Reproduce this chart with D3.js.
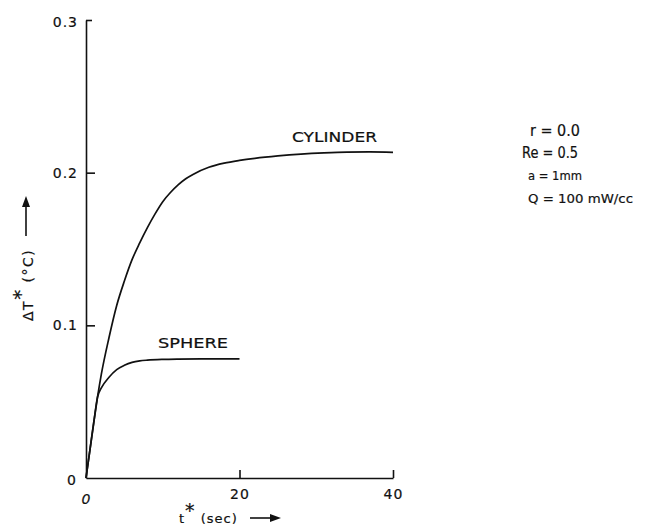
<!DOCTYPE html>
<html><head><meta charset="utf-8">
<script src="https://cdn.jsdelivr.net/npm/d3@7"></script>
<style>
html,body{margin:0;padding:0;background:#fff;}
text{font-family:"DejaVu Sans",sans-serif;fill:#111;stroke:#111;stroke-width:0.2px;}
</style></head>
<body><svg id="c" width="645" height="525"></svg>
<script>
// ---- data ----
const cylinderT = [0,0.5,1,1.5,2,3,4,5,6,7,8,9,10,11,12,13,14,16,18,20,22,25,28,31,34,37,40];
const cylinderV = [0,0.018,0.036,0.053,0.068,0.092,0.113,0.129,0.143,0.154,0.164,0.173,0.181,0.187,0.192,0.196,0.199,0.2035,0.2062,0.208,0.2094,0.211,0.2122,0.213,0.2135,0.2136,0.2133];
const sphereT = [0,0.5,1,1.5,2,3,4,5,6,7,8,10,12,15,20];
const sphereV = [0,0.018,0.036,0.053,0.059,0.066,0.071,0.0738,0.0757,0.0767,0.0772,0.0777,0.0779,0.078,0.078];
const xTicks = [0,20,40];
const xTickLabels = ["0","20","40"];
const yTicks = [0,0.1,0.2,0.3];
const yTickLabels = ["0","0.1","0.2","0.3"];
const params = ["r = 0.0","Re = 0.5","a = 1mm","Q = 100 mW/cc"];

const svg = d3.select("#c");
const x = d3.scaleLinear().domain([0,40]).range([86,393]);
const y = d3.scaleLinear().domain([0,0.3]).range([478,20]);

// x axis
const xg = svg.append("g").attr("transform",`translate(0,${y(0)})`)
  .call(d3.axisBottom(x).tickValues(xTicks).tickSizeInner(-8).tickSizeOuter(0).tickPadding(11)
    .tickFormat((d,i)=>xTickLabels[i]));
// y axis
const yg = svg.append("g").attr("transform",`translate(${x(0)},0)`)
  .call(d3.axisLeft(y).tickValues(yTicks).tickSizeInner(-9).tickSizeOuter(0).tickPadding(8)
    .tickFormat((d,i)=>yTickLabels[i]));
[xg,yg].forEach(g=>{
  g.selectAll("path,line").attr("stroke","#111").attr("stroke-width",1.6);
  g.selectAll("text").style("font-family","'DejaVu Sans',sans-serif").style("font-size","14px")
    .attr("fill","#111").style("letter-spacing","1px");
});
xg.selectAll(".tick").filter(d=>d===0).select("line").remove();
xg.selectAll(".tick").filter(d=>d===0).select("text").style("font-style","italic").attr("dy","1.05em");
yg.selectAll(".tick").filter(d=>d===0).select("line").remove();
yg.selectAll(".tick").filter(d=>d===0).select("text").attr("dx","-1px").attr("dy","0.45em");
yg.selectAll(".tick").filter(d=>d===0.3).select("line").attr("x2",6);
yg.selectAll(".tick").filter(d=>d===0.3).select("text").attr("dy","0.45em");

// curves
const line = d3.line().x(d=>x(d[0])).y(d=>y(d[1])).curve(d3.curveMonotoneX);
svg.append("path").datum(cylinderT.map((t,i)=>[t,cylinderV[i]]))
  .attr("d",line).attr("fill","none").attr("stroke","#111").attr("stroke-width",1.7);
svg.append("path").datum(sphereT.map((t,i)=>[t,sphereV[i]]))
  .attr("d",line).attr("fill","none").attr("stroke","#111").attr("stroke-width",1.7);

// curve labels
svg.append("text").attr("x",292).attr("y",142).text("CYLINDER")
  .attr("textLength",85).attr("lengthAdjust","spacingAndGlyphs").style("font-size","14px");
svg.append("text").attr("x",158).attr("y",348).text("SPHERE")
  .attr("textLength",70).attr("lengthAdjust","spacingAndGlyphs").style("font-size","14px");

// parameter block
const px = [530,522,528,528], py=[136,158,180,203], fs=[15,15,13,13], pw=[50,56,54,105];
params.forEach((p,i)=>{
  svg.append("text").attr("x",px[i]).attr("y",py[i]).text(p)
    .attr("textLength",pw[i]).attr("lengthAdjust","spacingAndGlyphs")
    .style("font-size",fs[i]+"px");
});

// x title
const xt = svg.append("text").attr("x",179).attr("y",523).style("font-size","13px").style("letter-spacing","1px");
xt.append("tspan").text("t");
xt.append("tspan").text("*").attr("dy","-6").style("font-size","19px");
xt.append("tspan").text(" (sec)").attr("dy","6");
svg.append("line").attr("x1",250).attr("x2",272).attr("y1",518).attr("y2",518).attr("stroke","#111").attr("stroke-width",1.6);
svg.append("path").attr("d","M270,514 L281,518 L270,522 Z").attr("fill","#111");

// y title
const yt = svg.append("text").attr("transform","translate(33,321) rotate(-90)").style("font-size","14px").style("letter-spacing","1.5px");
yt.append("tspan").text("ΔT");
yt.append("tspan").text("*").attr("dy","-6").style("font-size","20px");
yt.append("tspan").text(" (°C)").attr("dy","6");
svg.append("line").attr("x1",26).attr("x2",26).attr("y1",236).attr("y2",205).attr("stroke","#111").attr("stroke-width",1.6);
svg.append("path").attr("d","M22,207 L26,196 L30,207 Z").attr("fill","#111");
</script></body></html>
